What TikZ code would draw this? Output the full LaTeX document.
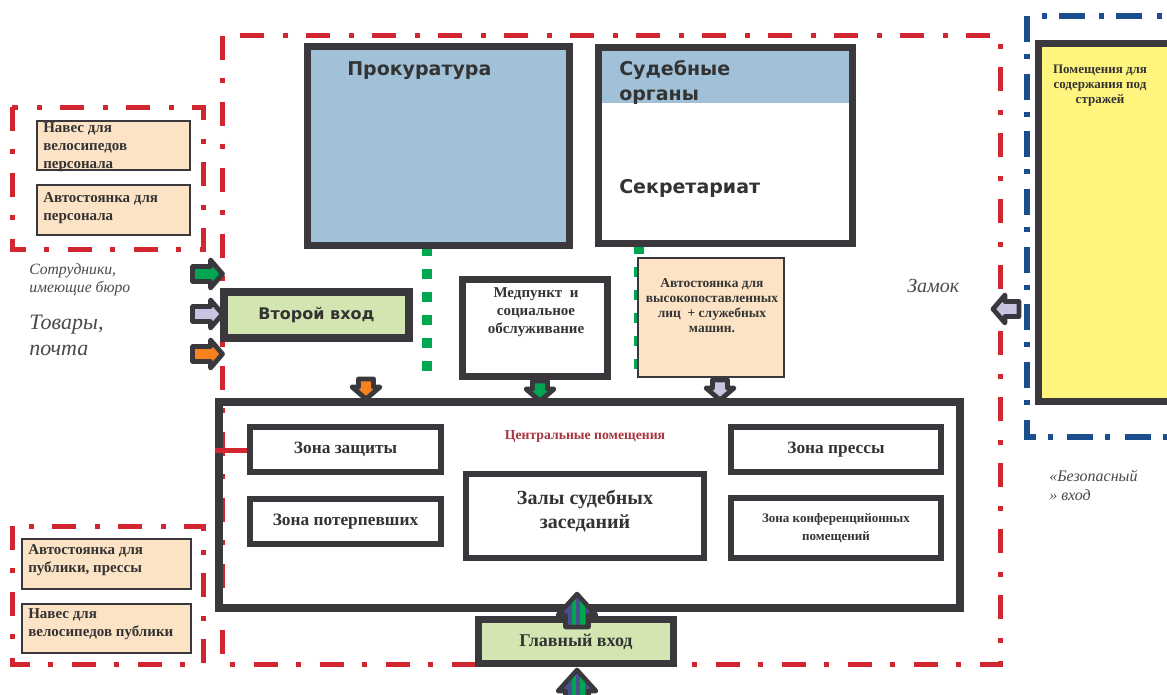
\documentclass[tikz,border=0pt]{standalone}
\usepackage{fontspec}
\setmainfont{Liberation Serif}
\newfontfamily\hsans{DejaVu Sans}
\usetikzlibrary{calc,backgrounds}
\definecolor{dk}{HTML}{3A383D}
\definecolor{bl}{HTML}{A0C1D8}
\definecolor{pch}{HTML}{FDE3C5}
\definecolor{lg}{HTML}{D3E6B2}
\definecolor{yl}{HTML}{FFF47E}
\definecolor{rd}{HTML}{D1262F}
\definecolor{bd}{HTML}{1A4E8D}
\definecolor{gd}{HTML}{00A650}
\definecolor{ora}{HTML}{F5821F}
\definecolor{lav}{HTML}{C8C5E3}
\definecolor{pur}{HTML}{4C4F8E}
\definecolor{tx}{HTML}{333333}
\definecolor{ctr}{HTML}{A8353D}
\definecolor{itc}{HTML}{4A4A4A}
\tikzset{
  sz/.style 2 args={minimum width=#1*0.75pt, minimum height=#2*0.75pt},
  wall/.style={draw=dk, line width=5.25pt, rectangle, inner sep=0pt, outer sep=0pt},
  room/.style={draw=dk, line width=4.5pt, rectangle, inner sep=0pt, outer sep=0pt, text=tx, align=center},
  tag/.style={draw=dk, line width=1.5pt, rectangle, inner sep=0pt, outer sep=0pt, fill=pch},
  reddash/.style={draw=rd, line width=3.75pt, dash pattern=on 18pt off 13.5pt on 4pt off 14pt},
  bluedash/.style={draw=bd, line width=4.1pt, dash pattern=on 19.5pt off 9pt on 3.75pt off 11pt},
  greendots/.style={draw=gd, line width=7.5pt, dash pattern=on 7.5pt off 9.75pt},
  headsans/.style={font=\hsans\bfseries\fontsize{14.25}{18.75}\selectfont, text=tx, inner sep=0pt},
  serifb/.style={font=\bfseries\fontsize{11.25}{13.5}\selectfont, text=tx, inner sep=0pt},
  ital/.style={text=itc, inner sep=0pt},
  pics/barrow/.style 2 args={code={
    \draw[draw=dk, line width=3.6pt, line join=round, fill=#2]
      ({-#1},-7.5) -- ({#1-12},-7.5) -- ({#1-12},-14) -- (#1,0) -- ({#1-12},14) -- ({#1-12},7.5) -- ({-#1},7.5) -- cycle;
  }},
  pics/sarrow/.style={code={
    \fill[pur] (-11.5,17) -- (-11.5,5) -- (-19,5) -- (0,-16) -- (19,5) -- (11.5,5) -- (11.5,17) -- cycle;
    \begin{scope}
      \clip (-11.5,17) -- (-11.5,5) -- (-19,5) -- (0,-16) -- (19,5) -- (11.5,5) -- (11.5,17) -- cycle;
      \fill[gd] (-5.5,-20) rectangle (-1,20);
      \fill[gd] (3,-20) rectangle (7.5,20);
    \end{scope}
    \draw[dk, line width=3.4pt, line join=round] (-11.5,17) -- (-11.5,5) -- (-19,5) -- (0,-16) -- (19,5) -- (11.5,5) -- (11.5,17) -- cycle;
  }},
}
\begin{document}
\begin{tikzpicture}[x=0.75pt,y=-0.75pt]
\useasboundingbox (0,0) rectangle (1167,694);
\clip (0,0) rectangle (1167,694);
\begin{pgfonlayer}{background}
\fill[white] (0,0) rectangle (1167,694);
\end{pgfonlayer}

% dashed zones
\draw[reddash] (222,35.5) rectangle (1000.5,664);
\draw[reddash] (12,107) rectangle (203,249);
\draw[reddash] (12,526) rectangle (203,664);
\draw[bluedash] (1200,16) -- (1027,16) -- (1027,437) -- (1200,437);

% top blocks
\node[wall, sz={262}{199}, fill=bl] (prok) at (438.5,146) {};
\node[wall, sz={254}{196}, fill=white,
  path picture={\fill[bl] (path picture bounding box.north west) rectangle ([yshift=-41.6pt]path picture bounding box.north east);}] (sud) at (725.5,145.5) {};
\node[headsans, anchor=base west] (prokT) at (347,75) {Прокуратура};
\node[headsans, anchor=base west, align=left] (sudT) at (619,100) {Судебные\\органы};
\node[headsans, anchor=base west] (sekT) at (619,193) {Секретариат};

% green dotted links
\coordinate (g1) at (427,378);
\coordinate (g2) at (639,378);
\begin{pgfonlayer}{background}
\draw[greendots] (prok.south -| g1) -- (g1);
\draw[greendots] (sud.south -| g2) -- (g2);
\end{pgfonlayer}

% middle row
\node[wall, line width=6pt, sz={185}{46}, fill=lg, font=\hsans\bfseries\fontsize{12}{14}\selectfont, text=tx] (vt) at (316.5,315) {Второй вход};
\node[wall, sz={145}{97}, fill=white] (med) at (535,328) {};
\node[serifb, align=center] (medT) at (536,312) {Медпункт\ \ и\\социальное\\обслуживание};
\node[tag, sz={146}{119}] (avto) at (710.5,317) {};
\node[serifb, font=\bfseries\fontsize{10.1}{11.25}\selectfont, align=center] (avtoT) at (712,306) {Автостоянка для\\высокопоставленных\\лиц\ \ + служебных\\машин.};

% yellow detention block
\node[wall, sz={151.5}{358}, fill=yl] (det) at (1114.25,222.5) {};
\node[serifb, font=\bfseries\fontsize{9.75}{11.25}\selectfont, align=center] (detT) at (1100,86) {Помещения для\\содержания под\\стражей};

% central block
\node[draw=dk, line width=6pt, sz={741}{206}] (cen) at (589.5,505) {};
\draw[rd, line width=3.75pt] (cen.west |- 0,450) -- (250,450);
\node[font=\bfseries\fontsize{10.3}{12}\selectfont, text=ctr, inner sep=0pt] (cenT) at (585,436) {Центральные помещения};
\node[room, sz={191}{45}, font=\bfseries\fontsize{13}{15}\selectfont] (zas) at (345.5,449.5) {Зона защиты};
\node[room, sz={191}{45}, font=\bfseries\fontsize{13}{15}\selectfont] (pot) at (345.5,521.5) {Зона потерпевших};
\node[room, sz={238}{84}] (zal) at (585,516) {};
\node[serifb, font=\bfseries\fontsize{15}{18}\selectfont, align=center] (zalT) at (585,511) {Залы судебных\\заседаний};
\node[room, sz={210}{45}, font=\bfseries\fontsize{13}{15}\selectfont] (pre) at (836,449.5) {Зона прессы};
\node[room, sz={210}{60}, font=\bfseries\fontsize{9.75}{13.5}\selectfont] (konf) at (836,528) {Зона конференцийонных\\помещений};

% main entrance
\node[wall, sz={195}{44}, fill=lg, font=\bfseries\fontsize{13.5}{15}\selectfont, text=tx] (glav) at (576,641.5) {Главный вход};

% side tags
\node[tag, sz={153}{49}] (lt1) at (113.5,145.5) {};
\node[tag, sz={153}{50}] (lt2) at (113.5,210) {};
\node[tag, sz={169}{50}] (lb1) at (106.5,564) {};
\node[tag, sz={169}{49}] (lb2) at (106.5,628.5) {};
\node[serifb, align=left, anchor=west] (lt1T) at (43,147) {Навес для\\велосипедов\\персонала};
\node[serifb, align=left, anchor=west] (lt2T) at (43,208) {Автостоянка для\\персонала};
\node[serifb, align=left, anchor=west] (lb1T) at (28,560) {Автостоянка для\\публики, прессы};
\node[serifb, align=left, anchor=west] (lb2T) at (28,624) {Навес для\\велосипедов публики};

% italic captions
\node[ital, font=\itshape\fontsize{11.75}{13.75}\selectfont, align=left, anchor=west] (sotr) at (29,280) {Сотрудники,\\имеющие бюро};
\node[ital, font=\itshape\fontsize{16.5}{19.5}\selectfont, align=left, anchor=west] (tov) at (29,335) {Товары,\\почта};
\node[ital, font=\itshape\fontsize{15}{17}\selectfont, anchor=base west] (zam) at (907,292) {Замок};
\node[ital, font=\itshape\fontsize{12}{14.25}\selectfont, align=left, anchor=west] (bez) at (1049,485) {«Безопасный\\» вход};

% block arrows
\pic (aG) at (207.5,274) {barrow={15}{gd}};
\pic (aL) at (207.5,314) {barrow={15}{lav}};
\pic (aO) at (207.5,354) {barrow={15}{ora}};
\pic[rotate=-90] (dO) at (366,389) {barrow={10}{ora}};
\pic[rotate=-90] (dG) at (540,391) {barrow={10}{gd}};
\pic[rotate=-90] (dL) at (720,390) {barrow={10}{lav}};
\pic[rotate=180] (aZ) at (1006,309) {barrow={13}{lav}};
\pic (sU) at (577,610) {sarrow};
\pic (sD) at (577,686) {sarrow};
\end{tikzpicture}
\end{document}
